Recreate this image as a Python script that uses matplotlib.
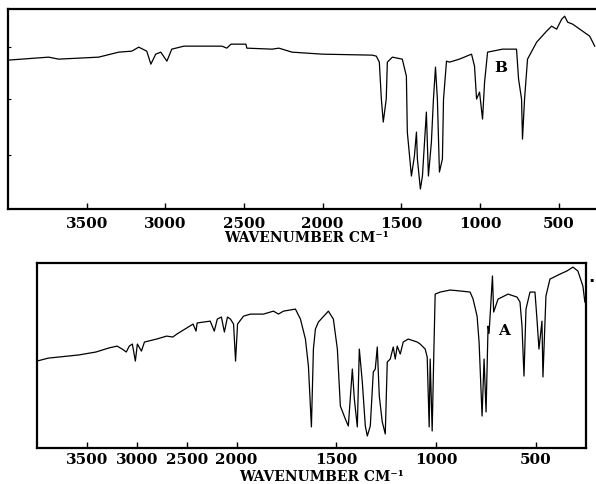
import numpy as np
import matplotlib
matplotlib.use('Agg')
import matplotlib.pyplot as plt

# spectrum B (top): wavenumber, % transmittance
wn_b = [4000, 3742, 3678, 3424, 3296, 3213, 3169, 3118, 3092, 3061, 3029, 2990, 2959,
        2882, 2787, 2640, 2609, 2583, 2488, 2482, 2322, 2278, 2195, 2004, 1685, 1659,
        1640, 1627, 1615, 1596, 1589, 1557, 1494, 1468, 1462, 1436, 1417, 1404, 1398,
        1379, 1366, 1341, 1328, 1309, 1296, 1283, 1271, 1258, 1239, 1232, 1213, 1194,
        1131, 1054, 1035, 1022, 1003, 984, 971, 952, 857, 768, 755, 736, 730, 717, 698,
        640, 577, 545, 513, 481, 462, 443, 411, 366, 303, 271]
t_b = [74.5, 76, 75, 76, 78.5, 79, 81, 79, 72.5, 77.5, 78.5, 74, 80,
       81.5, 81.5, 81.5, 80.5, 82.5, 82.5, 80.5, 80, 80.5, 78.5, 77.5, 77, 76.5,
       73.5, 55, 43.5, 55, 73.5, 76, 75, 66.5, 38.5, 16.5, 26.5, 38.5, 25,
       10, 16.5, 48.5, 16.5, 33.5, 55, 71, 55, 18.5, 25, 55, 74, 73.5,
       75, 77.5, 71.5, 55, 58.5, 45, 63.5, 78.5, 80, 80, 65, 55, 35, 55, 75,
       83.5, 89, 91.5, 90, 95, 96.5, 93.5, 92.5, 90, 86.5, 81.5]

# spectrum A (bottom)
wn_a = [4000, 3886, 3582, 3409, 3278, 3197, 3146, 3105, 3075, 3044, 3014, 2994, 2953,
        2923, 2801, 2700, 2639, 2598, 2517, 2436, 2406, 2395, 2264, 2223, 2193, 2152,
        2122, 2091, 2061, 2030, 2010, 1995, 1965, 1930, 1865, 1815, 1790, 1765, 1705,
        1680, 1655, 1640, 1625, 1615, 1605, 1590, 1540, 1515, 1495, 1480, 1455, 1440,
        1420, 1410, 1395, 1385, 1370, 1355, 1345, 1330, 1315, 1305, 1295, 1285, 1270,
        1255, 1245, 1230, 1215, 1205, 1195, 1180, 1165, 1140, 1095, 1080, 1055, 1045,
        1035, 1030, 1020, 1012, 1005, 980, 930, 880, 830, 815, 795, 785, 770, 760, 750,
        740, 735, 718, 712, 690, 640, 595, 580, 570, 560, 550, 530, 505, 495, 485, 470,
        465, 450, 430, 380, 345, 315, 290, 265, 255]
t_a = [47.0, 48.6, 50.3, 51.9, 54.1, 55.1, 53.5, 51.9, 55.1, 56.2, 47.0, 56.2, 52.4,
       57.3, 58.9, 60.5, 60.0, 61.6, 64.3, 67.0, 63.2, 67.6, 68.6, 63.2, 69.7, 70.8,
       62.7, 70.8, 69.7, 67.0, 47.0, 67.0, 71.3, 72.4, 72.4, 74.0, 72.4, 74.0, 75.1,
       69.7, 58.9, 44.3, 11.4, 53.5, 64.3, 68.1, 74.0, 69.7, 53.5, 22.7, 15.7, 11.9,
       42.7, 26.5, 11.4, 53.5, 35.7, 11.9, 6.5, 11.9, 41.1, 42.7, 54.6, 28.1, 14.1,
       7.6, 46.5, 48.1, 54.6, 48.1, 55.1, 50.8, 57.3, 58.9, 57.3, 56.2, 53.5, 49.2,
       11.4, 48.1, 9.2, 50.0, 83.2, 84.3, 85.4, 84.9, 84.3, 80.5, 71.3, 57.3, 17.3, 48.1, 19.5,
       65.9, 62.0, 93.0, 73.5, 80.5, 83.2, 81.6, 78.9, 65.9, 38.9, 75.1, 84.3, 84.3, 69.7, 53.5, 68.6,
       38.4, 82.2, 91.3, 94.0, 95.7, 97.8, 95.7, 87.6, 78.9]

tick_wn = [3500, 3000, 2500, 2000, 1500, 1000, 500]
tick_lbl = ['3500', '3000', '2500', '2000', '1500', '1000', '500']

tick_font = dict(family='DejaVu Serif', weight='bold', size=11)


def fwd(x):
    x = np.asarray(x, dtype=float)
    return np.where(x > 2000, 2000 + (x - 2000) / 2, x)


def inv(x):
    x = np.asarray(x, dtype=float)
    return np.where(x > 2000, 2000 + (x - 2000) * 2, x)


def style(ax, pad):
    ax.set_xticks(tick_wn)
    ax.set_xticklabels(tick_lbl, fontdict=tick_font)
    ax.tick_params(axis='x', direction='in', length=4, width=1, pad=pad)
    ax.set_ylim(0, 100)
    for s in ax.spines.values():
        s.set_linewidth(1.6)


fig = plt.figure(figsize=(5.96, 4.85), dpi=100)

# top panel
ax1 = fig.add_axes([0.0134, 0.567, 0.99, 0.412])
ax1.plot(wn_b, t_b, color='black', lw=0.9)
ax1.set_xlim(4000, 250)
style(ax1, 5)
ax1.spines['right'].set_visible(False)
ax1.set_yticks([27, 55, 81])
ax1.set_yticklabels([])
ax1.tick_params(axis='y', direction='in', length=2, width=0.8)
ax1.text(865, 71, 'B', fontsize=11, fontweight='bold', family='DejaVu Serif',
         ha='center', va='center')
fig.text(0.515, 0.509, 'WAVENUMBER CM⁻¹', ha='center', va='center',
         family='DejaVu Serif', weight='bold', size=10)

# bottom panel, scale doubles below 2000 cm-1
ax2 = fig.add_axes([0.062, 0.0742, 0.921, 0.3814])
ax2.set_xscale('function', functions=(fwd, inv))
ax2.plot(wn_a, t_a, color='black', lw=0.9)
ax2.set_xlim(4000, 250)
style(ax2, 3)
ax2.set_yticks([])
ax2.text(660, 64, 'A', fontsize=11, fontweight='bold', family='DejaVu Serif',
         ha='center', va='center')
fig.text(0.993, 0.418, '·', ha='center', va='center', size=12, weight='bold')
fig.text(0.539, 0.017, 'WAVENUMBER CM⁻¹', ha='center', va='center',
         family='DejaVu Serif', weight='bold', size=10)

fig.savefig('out.png', dpi=100)
